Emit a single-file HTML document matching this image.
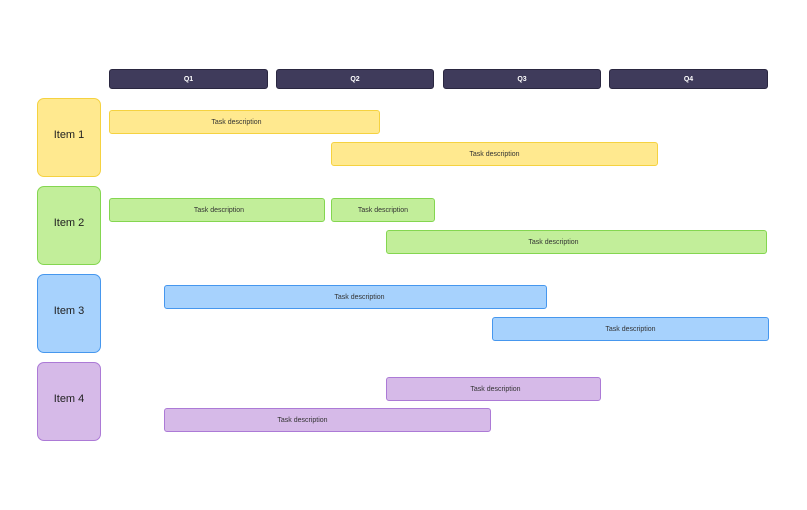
<!DOCTYPE html>
<html><head><style>
body{margin:0;width:807px;height:510px;background:#fff;position:relative;font-family:"Liberation Sans",sans-serif;overflow:hidden}
div{position:absolute;box-sizing:border-box;display:flex;align-items:center;justify-content:center}
.q{background:#3f3b5b;border:1px solid #2a2740;border-radius:3px;color:#fff;font-size:7px;font-weight:bold;top:69px;height:20px}
.i{left:37px;width:64px;height:79px;border-radius:7px;font-size:11px;color:#222;padding-bottom:6px}
.t{height:24px;border-radius:3px;font-size:7px;color:#333}
.y{background:#ffe98f;border:1px solid #f5d240}
.g{background:#c2ee9a;border:1px solid #84d650}
.b{background:#a7d2fd;border:1px solid #4697ee}
.p{background:#d6bae8;border:1px solid #ac7ad6}
</style></head><body>
<div class="q" style="left:109px;width:159px">Q1</div>
<div class="q" style="left:276px;width:158px">Q2</div>
<div class="q" style="left:443px;width:158px">Q3</div>
<div class="q" style="left:609px;width:159px">Q4</div>
<div class="i y" style="top:98px">Item 1</div>
<div class="i g" style="top:186px">Item 2</div>
<div class="i b" style="top:274px">Item 3</div>
<div class="i p" style="top:362px">Item 4</div>
<div class="t y" style="left:109px;top:110px;width:271px;padding-right:16px">Task description</div>
<div class="t y" style="left:331px;top:142px;width:327px">Task description</div>
<div class="t g" style="left:109px;top:198px;width:216px;padding-left:4px">Task description</div>
<div class="t g" style="left:331px;top:198px;width:104px">Task description</div>
<div class="t g" style="left:386px;top:230px;width:381px;padding-right:46px">Task description</div>
<div class="t b" style="left:164px;top:285px;width:383px;padding-left:8px">Task description</div>
<div class="t b" style="left:492px;top:317px;width:277px">Task description</div>
<div class="t p" style="left:386px;top:377px;width:215px;padding-left:4px">Task description</div>
<div class="t p" style="left:164px;top:408px;width:327px;padding-right:50px">Task description</div>
</body></html>
